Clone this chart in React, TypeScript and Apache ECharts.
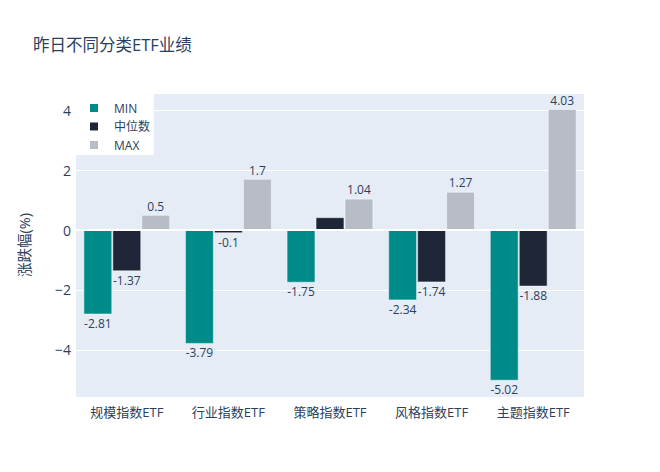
import React, { useEffect, useRef } from "react";
import * as echarts from "echarts";

const categories = ["规模指数ETF", "行业指数ETF", "策略指数ETF", "风格指数ETF", "主题指数ETF"];
const minValues = [-2.81, -3.79, -1.75, -2.34, -5.02];
const medianValues = [-1.37, -0.1, 0.42, -1.74, -1.88];
const maxValues = [0.5, 1.7, 1.04, 1.27, 4.03];
const medianHidden = [false, false, true, false, false];

const FONT = '"Open Sans", "Noto Sans CJK SC", sans-serif';
const TXT = "#2a3f5f";

function items(vals: number[], hide?: boolean[]) {
  return vals.map((v, i) => ({
    value: v,
    label: {
      show: !(hide && hide[i]),
      position: v >= 0 ? "top" : "bottom",
      distance: 3,
      formatter: String(v),
      color: TXT,
      fontSize: 12,
      fontFamily: FONT,
    },
  }));
}

export default function App() {
  const ref = useRef<HTMLDivElement>(null);
  useEffect(() => {
    if (!ref.current) return;
    const chart = echarts.init(ref.current, null, { renderer: "svg" });
    chart.setOption({
      animation: false,
      backgroundColor: "#ffffff",
      textStyle: { fontFamily: FONT },
      title: {
        text: "昨日不同分类ETF业绩",
        left: 28,
        top: 31,
        textStyle: { fontSize: 16.5, fontWeight: "normal", color: TXT, fontFamily: FONT },
      },
      grid: { left: 76, right: 76, top: 93, bottom: 75, backgroundColor: "#e5ecf6", show: true, borderWidth: 0 },
      legend: {
        orient: "vertical",
        left: 76,
        top: 93,
        backgroundColor: "#ffffff",
        padding: [8, 4, 3, 12],
        itemWidth: 10,
        itemHeight: 10,
        itemGap: 4.5,
        icon: "rect",
        textStyle: { fontSize: 12, color: TXT, fontFamily: FONT, lineHeight: 14, padding: [0, 0, 0, 10] },
        data: ["MIN", "中位数", "MAX"],
      },
      xAxis: {
        type: "category",
        data: categories,
        axisLine: { show: false },
        axisTick: { show: false },
        axisLabel: { fontSize: 13, color: TXT, margin: 8, fontFamily: FONT },
      },
      yAxis: {
        type: "value",
        min: -5.57,
        max: 4.57,
        splitNumber: 5,
        name: "涨跌幅(%)",
        nameLocation: "middle",
        nameGap: 44,
        nameTextStyle: { fontSize: 14.5, color: TXT, fontFamily: FONT },
        axisLine: { show: false },
        axisTick: { show: false },
        splitLine: { lineStyle: { color: "#ffffff", width: 1 } },
        axisLabel: {
          showMinLabel: false,
          showMaxLabel: false,
          fontSize: 14,
          color: TXT,
          margin: 5,
          fontFamily: FONT,
          formatter: (v: number) => String(v).replace("-", "−"),
        },
      },
      series: [
        {
          name: "MIN",
          type: "bar",
          data: items(minValues),
          itemStyle: { color: "#008b8b", borderColor: "#ffffff", borderWidth: 0.5 },
          barGap: "2%",
          barCategoryGap: "15%",
        },
        {
          name: "中位数",
          type: "bar",
          data: items(medianValues, medianHidden),
          itemStyle: { color: "#1e2638", borderColor: "#ffffff", borderWidth: 0.5 },
        },
        {
          name: "MAX",
          type: "bar",
          data: items(maxValues),
          itemStyle: { color: "#b8bcc6", borderColor: "#ffffff", borderWidth: 0.5 },
          markLine: {
            silent: true,
            symbol: "none",
            label: { show: false },
            lineStyle: { color: "#ffffff", width: 2, type: "solid" },
            data: [{ yAxis: 0 }],
          },
        },
      ],
    });
    return () => chart.dispose();
  }, []);
  return <div ref={ref} style={{ position: "absolute", left: 0, top: 0, width: 660, height: 472 }} />;
}
